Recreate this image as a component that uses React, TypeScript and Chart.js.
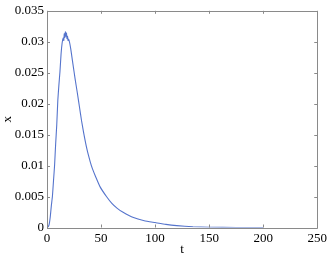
import React, { useEffect, useRef } from "react";
import { Chart, registerables } from "chart.js";

Chart.register(...registerables);

const tValues = [0, 1, 2, 3, 4, 5, 6, 7, 8, 9, 10, 11, 12, 13, 14, 15, 15.5, 16, 16.5, 17, 17.5, 18, 18.5, 19, 19.5, 20, 21, 22, 23, 24, 26, 28, 30, 32, 34, 37, 40, 42, 45, 49, 55, 60, 65, 70, 80, 90, 100, 110, 120, 135, 150, 175, 200];
const xValues = [0, 0.0001, 0.0005, 0.0017, 0.0035, 0.005, 0.0075, 0.0100, 0.0135, 0.0165, 0.0205, 0.0230, 0.0252, 0.0280, 0.0298, 0.0306, 0.0302, 0.0313, 0.0307, 0.0316, 0.0309, 0.0314, 0.0305, 0.0309, 0.0302, 0.0304, 0.0298, 0.0288, 0.0276, 0.0264, 0.0240, 0.0218, 0.0195, 0.0172, 0.0152, 0.0126, 0.0106, 0.0095, 0.0082, 0.0066, 0.0050, 0.0039, 0.0031, 0.0025, 0.0016, 0.0011, 0.0008, 0.0005, 0.0003, 0.00012, 0.00005, 0.00001, 0];

const xTickStep = 50;
const yTickStep = 0.005;

const FONT_FAMILY = "'Times New Roman', 'Liberation Serif', serif";

Chart.defaults.font.family = FONT_FAMILY;
Chart.defaults.font.size = 13;
Chart.defaults.color = "#000";

const framePlugin = {
  id: "frame",
  afterDraw(chart: any) {
    const { ctx, chartArea } = chart;
    const { left, right, top, bottom } = chartArea;
    const xs = chart.scales.x;
    const ys = chart.scales.y;
    ctx.save();
    ctx.strokeStyle = "#8a8a8a";
    ctx.lineWidth = 1;
    ctx.beginPath();
    ctx.rect(Math.round(left) + 0.5, Math.round(top) + 0.5, Math.round(right - left), Math.round(bottom - top));
    ctx.stroke();
    const len = 3;
    ctx.beginPath();
    xs.ticks.forEach((tk: any) => {
      const px = Math.round(xs.getPixelForValue(tk.value)) + 0.5;
      ctx.moveTo(px, bottom);
      ctx.lineTo(px, bottom - len);
      ctx.moveTo(px, top);
      ctx.lineTo(px, top + len);
    });
    ys.ticks.forEach((tk: any) => {
      const py = Math.round(ys.getPixelForValue(tk.value)) + 0.5;
      ctx.moveTo(left, py);
      ctx.lineTo(left + len, py);
      ctx.moveTo(right, py);
      ctx.lineTo(right - len, py);
    });
    ctx.stroke();
    ctx.restore();
  },
};

export default function App() {
  const ref = useRef<HTMLCanvasElement>(null);
  useEffect(() => {
    document.body.style.margin = "0";
    const points = tValues.map((t, i) => ({ x: t, y: xValues[i] }));
    const chart = new Chart(ref.current!, {
      type: "line",
      data: {
        datasets: [
          {
            data: points,
            borderColor: "#5574cc",
            borderWidth: 1.1,
            pointRadius: 0,
            tension: 0.15,
            fill: false,
          },
        ],
      },
      options: {
        animation: false,
        responsive: false,
        maintainAspectRatio: false,
        layout: { padding: { left: 0, top: 10, right: 11, bottom: 0 } },
        plugins: { legend: { display: false }, tooltip: { enabled: false } },
        scales: {
          x: {
            type: "linear",
            min: 0,
            max: 250,
            grid: { display: false, drawTicks: false },
            border: { display: false },
            ticks: { stepSize: xTickStep, color: "#000", font: { family: FONT_FAMILY, size: 13 }, padding: 3, maxRotation: 0 },
            title: { display: true, text: "t", color: "#000", font: { family: FONT_FAMILY, size: 13 }, padding: { top: 0, bottom: 1 } },
            afterFit: (s: any) => { s.height = 30.5; },
          },
          y: {
            type: "linear",
            min: 0,
            max: 0.035,
            grid: { display: false, drawTicks: false },
            border: { display: false },
            ticks: {
              stepSize: yTickStep,
              color: "#000",
              font: { family: FONT_FAMILY, size: 13 },
              padding: 3,
              callback: (v: any) => (v === 0 ? "0" : String(+Number(v).toFixed(3))),
            },
            title: { display: true, text: "x", color: "#000", font: { family: FONT_FAMILY, size: 13 }, padding: { top: 0, bottom: 0 } },
            afterFit: (s: any) => { s.width = 47; },
          },
        },
      },
      plugins: [framePlugin],
    });
    return () => chart.destroy();
  }, []);
  return (
    <div style={{ position: "absolute", left: 0, top: 0, width: 330, height: 258, background: "#fff" }}>
      <canvas ref={ref} width={330} height={258} style={{ width: 330, height: 258 }} />
    </div>
  );
}
